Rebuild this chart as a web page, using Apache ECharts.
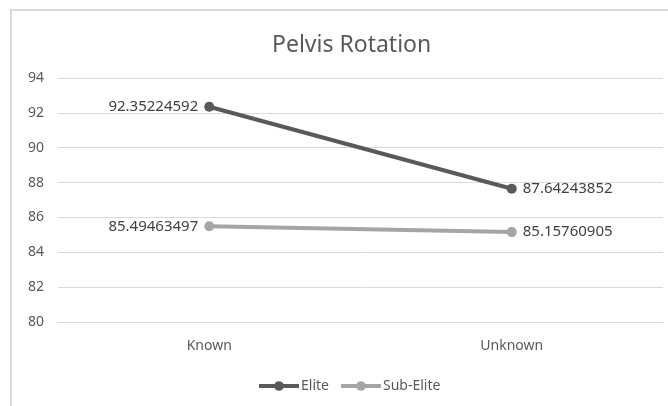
<!DOCTYPE html>
<html>
<head>
    <meta charset="UTF-8">
    <title>Pelvis Rotation</title>
    <style>
        html, body { margin: 0; padding: 0; background: #fff; }
        #chart { width: 668px; height: 406px; }
    </style>
</head>
<body>
    <div id="chart"></div>
    <script src="https://cdn.jsdelivr.net/npm/echarts@6/dist/echarts.min.js"></script>
    <script>
        var categories = ['Known', 'Unknown'];
        var eliteValues = [92.35224592, 87.64243852];
        var subEliteValues = [85.49463497, 85.15760905];
        var yTicks = { min: 80, max: 94, step: 2 };

        var font = 'Noto Sans';
        var labelSide = ['left', 'right'];

        function withLabels(values) {
            return values.map(function (v, i) {
                return { value: v, label: { position: labelSide[i] } };
            });
        }

        function lineSeries(name, values, color) {
            return {
                name: name,
                type: 'line',
                data: withLabels(values),
                symbol: 'circle',
                symbolSize: 10,
                lineStyle: { color: color, width: 4 },
                itemStyle: { color: color },
                label: {
                    show: true,
                    color: '#404040',
                    fontFamily: font,
                    fontSize: 15,
                    distance: 6,
                    formatter: function (p) { return String(p.value); }
                }
            };
        }

        var option = {
            animation: false,
            title: {
                text: 'Pelvis Rotation',
                left: 267,
                top: 29,
                textStyle: { color: '#595959', fontFamily: font, fontSize: 23, fontWeight: 'normal' }
            },
            legend: {
                bottom: 8,
                left: 252,
                itemWidth: 40,
                itemHeight: 12,
                itemGap: 10,
                lineStyle: { width: 4 },
                textStyle: { color: '#595959', fontFamily: font, fontSize: 14, padding: [0, 0, 0, -3] },
                data: ['Elite', 'Sub-Elite']
            },
            grid: { left: 58, right: 5, top: 78, bottom: 84 },
            xAxis: {
                type: 'category',
                data: categories,
                boundaryGap: true,
                axisLine: { lineStyle: { color: '#d9d9d9' } },
                axisTick: { show: false },
                axisLabel: { color: '#595959', fontFamily: font, fontSize: 14, margin: 17 }
            },
            yAxis: {
                type: 'value',
                min: yTicks.min,
                max: yTicks.max,
                interval: yTicks.step,
                axisLine: { show: false },
                axisTick: { show: false },
                splitLine: { lineStyle: { color: '#d9d9d9', width: 1 } },
                axisLabel: { color: '#595959', fontFamily: font, fontSize: 14, margin: 14 }
            },
            graphic: [{
                type: 'rect',
                shape: { x: 11, y: 10, width: 700, height: 450 },
                style: { fill: 'none', stroke: '#d9d9d9', lineWidth: 2 },
                silent: true
            }],
            series: [
                lineSeries('Elite', eliteValues, '#595959'),
                lineSeries('Sub-Elite', subEliteValues, '#a5a5a5')
            ]
        };

        var myChart = echarts.init(document.getElementById('chart'));
        myChart.setOption(option);
    </script>
</body>
</html>
